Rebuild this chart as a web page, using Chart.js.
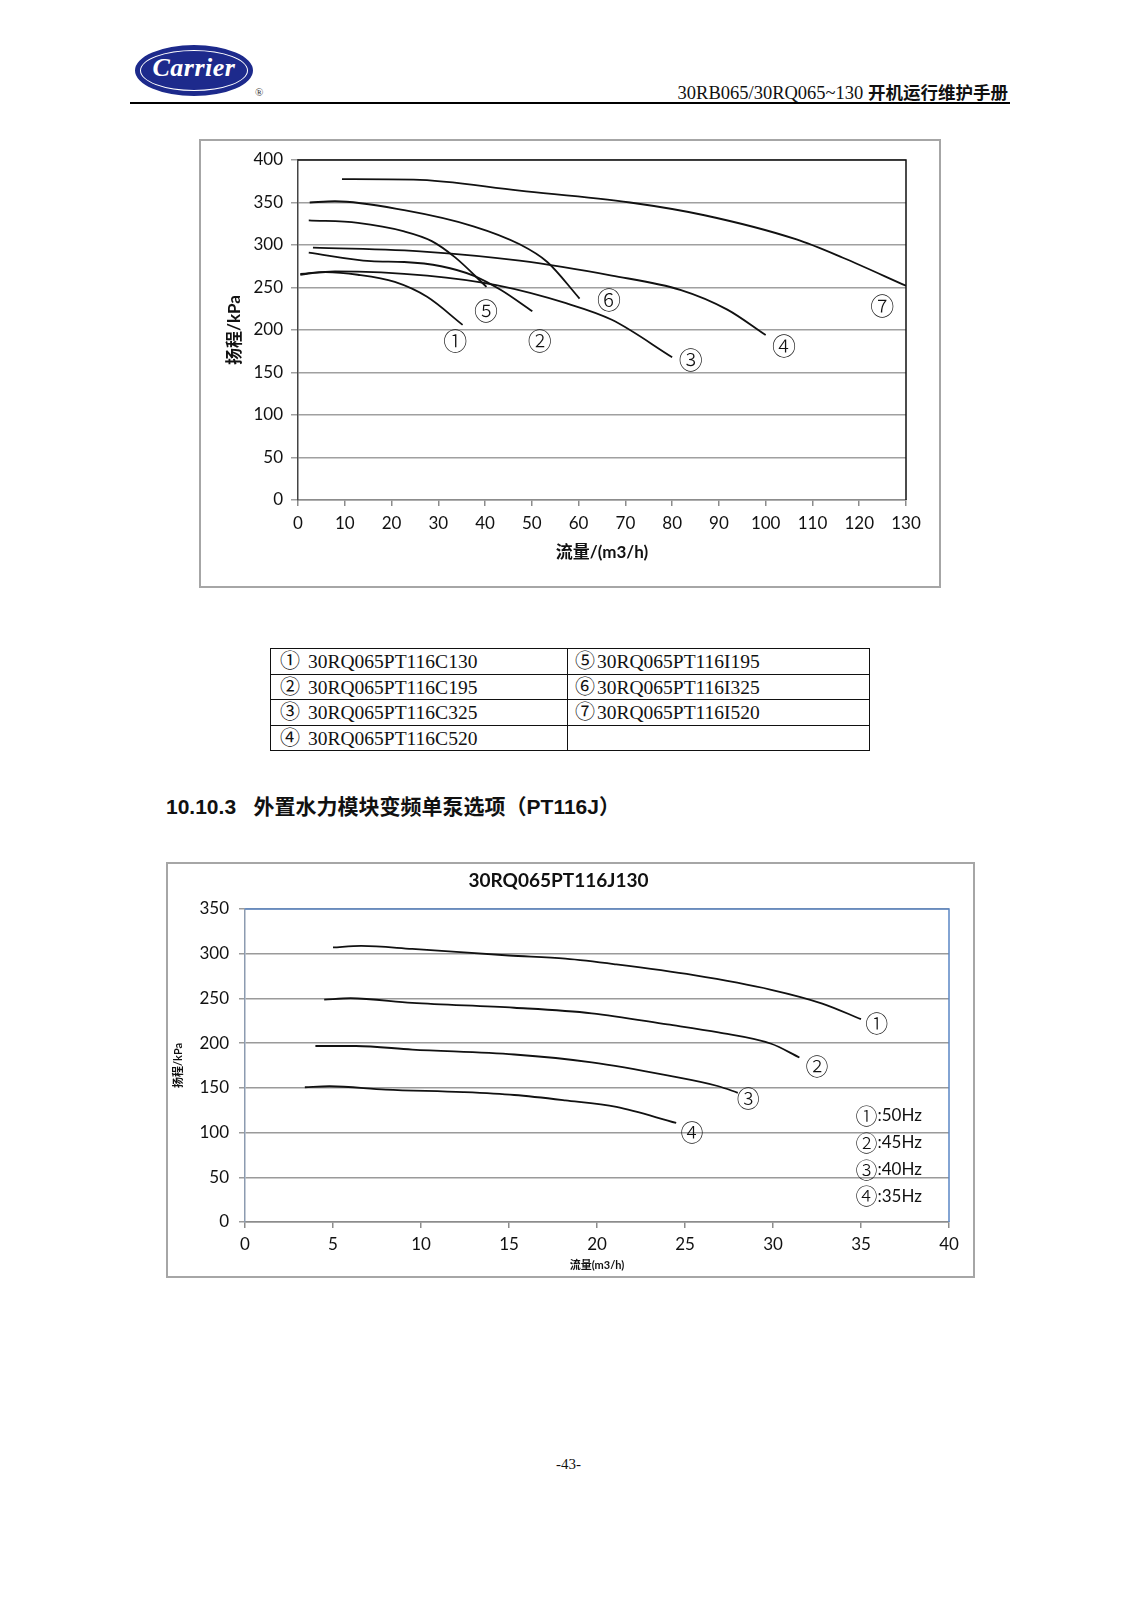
<!DOCTYPE html>
<html>
<head>
<meta charset="utf-8">
<script src="https://cdn.jsdelivr.net/npm/chart.js@4.4.1/dist/chart.umd.min.js"></script>
<style>
  html,body{margin:0;padding:0;background:#fff;}
  #page{position:relative;width:1137px;height:1600px;background:#fff;overflow:hidden;}
  .abs{position:absolute;}
  #logo{left:135px;top:45px;width:114px;height:47px;border-radius:50%;background:#1d2a8c;border:2px solid #1d2a8c;}
  #logo .ring{position:absolute;left:3px;top:3px;right:3px;bottom:3px;border-radius:50%;border:1.5px solid #fff;}
  #logo .txt{position:absolute;left:0;right:0;top:6px;text-align:center;color:#fff;font:italic bold 26px "Liberation Serif","DejaVu Serif",serif;letter-spacing:0.5px;}
  #reg{left:255px;top:86px;font:11px "Liberation Serif",serif;color:#333;}
  #hdr{right:129px;top:79px;font:18.5px "Liberation Serif","Noto Sans CJK SC",serif;color:#111;white-space:nowrap;}
  #hdr b{font-family:"Noto Sans CJK SC",sans-serif;font-weight:700;font-size:17.5px;}
  #hline{left:130px;top:102px;width:880px;height:2px;background:#000;}
  #f1{left:199px;top:139px;width:738px;height:445px;border:2px solid #a6a6a6;}
  #f2{left:166px;top:862px;width:805px;height:412px;border:2px solid #a6a6a6;}
  table#leg{position:absolute;left:270px;top:648px;border-collapse:collapse;font:19.5px "Liberation Serif",serif;color:#111;}
  table#leg td{border:1.5px solid #111;height:24.5px;line-height:22px;padding:0 0 0 9px;white-space:nowrap;vertical-align:middle;}
  table#leg td.c1{width:287px;}
  table#leg td.c2{width:294px;padding-left:7px;}
  table#leg .n{font-family:"Noto Sans CJK SC",sans-serif;font-size:20px;font-weight:400;margin-right:8px;}
  table#leg td.c2 .n{margin-right:2px;}
  #head{left:166px;top:790px;font:bold 21px "Liberation Sans","Noto Sans CJK SC",sans-serif;color:#111;white-space:nowrap;}
  #head .cn{font-family:"Noto Sans CJK SC",sans-serif;}
  #foot{left:0;width:1137px;top:1456px;text-align:center;font:15px "Liberation Serif",serif;color:#111;}
</style>
</head>
<body>
<div id="page">
  <div id="logo" class="abs"><div class="ring"></div><div class="txt">Carrier</div></div>
  <div id="reg" class="abs">®</div>
  <div id="hdr" class="abs">30RB065/30RQ065~130 <b>开机运行维护手册</b></div>
  <div id="hline" class="abs"></div>

  <div id="f1" class="abs"><canvas id="c1" width="738" height="445"></canvas></div>

  <table id="leg">
    <tr><td class="c1"><span class="n">①</span>30RQ065PT116C130</td><td class="c2"><span class="n">⑤</span>30RQ065PT116I195</td></tr>
    <tr><td class="c1"><span class="n">②</span>30RQ065PT116C195</td><td class="c2"><span class="n">⑥</span>30RQ065PT116I325</td></tr>
    <tr><td class="c1"><span class="n">③</span>30RQ065PT116C325</td><td class="c2"><span class="n">⑦</span>30RQ065PT116I520</td></tr>
    <tr><td class="c1"><span class="n">④</span>30RQ065PT116C520</td><td class="c2"></td></tr>
  </table>

  <div id="head" class="abs">10.10.3&nbsp;&nbsp; <span class="cn">外置水力模块变频单泵选项（</span>PT116J<span class="cn">）</span></div>

  <div id="f2" class="abs"><canvas id="c2" width="805" height="412"></canvas></div>

  <div id="foot" class="abs">-43-</div>
</div>

<script>
// ---------- Chart 1 data: flow (m3/h) vs head (kPa) ----------
const xTicks1 = [0,10,20,30,40,50,60,70,80,90,100,110,120,130];
const yTicks1 = [0,50,100,150,200,250,300,350,400];
const curveNames1 = ['①','②','③','④','⑤','⑥','⑦'];
const flowC130 = [0.5, 5.9, 12.8, 20.7, 27.6, 35.2];
const headC130 = [265, 268, 265, 256.5, 239, 206];
const flowC195 = [2.3, 15.6, 22.7, 30.6, 37.5, 43.4, 50.1];
const headC195 = [291, 281, 280, 275, 264, 247, 222];
const flowC325 = [0.5, 7.9, 27.6, 42.4, 57.3, 67.1, 80];
const headC325 = [266, 269, 264, 252.7, 231.5, 212, 168];
const flowC520 = [3.2, 27.6, 47.4, 67.1, 81.9, 91.8, 100];
const headC520 = [297, 292, 281.5, 264, 247, 224, 194];
const flowI195 = [2.3, 12.8, 22.7, 28.6, 33.6, 40.3];
const headI195 = [329, 326, 316, 304.6, 285.4, 250.8];
const flowI325 = [2.5, 7.9, 22.7, 37.5, 47.4, 53.3, 60.2];
const headI325 = [350, 351.5, 341, 322, 300.8, 280, 237];
const flowI520 = [9.4, 24.7, 47.4, 71, 86.9, 106.6, 116.5, 130];
const headI520 = [377.5, 377, 364, 350, 335, 306.5, 285, 252];
const labelX1 = [33.6, 51.7, 84, 103.9, 40.2, 66.5, 124.9];
const labelY1 = [187, 187, 165, 181, 222, 235, 228];

// ---------- Chart 2 data: 30RQ065PT116J130 ----------
const chartTitle2 = '30RQ065PT116J130';
const xTicks2 = [0,5,10,15,20,25,30,35,40];
const yTicks2 = [0,50,100,150,200,250,300,350];
const curveNames2 = ['①','②','③','④'];
const flow50 = [5, 6.6, 9.5, 15, 18.2, 21.1, 25.5, 29.9, 32.8, 35];
const head50 = [307, 308.7, 305.4, 298, 294.4, 288, 276, 259.7, 244.3, 226.8];
const flow45 = [4.5, 6, 9.5, 15.3, 19.7, 24, 26.9, 29.9, 31.5];
const head45 = [248.7, 250.2, 245, 239.6, 233.4, 221, 212, 199.3, 184];
const flow40 = [4, 6.3, 9.5, 15.3, 19.7, 24, 26.9, 28];
const head40 = [196.8, 196.8, 192.8, 187.3, 178.5, 163.9, 151.8, 144.5];
const flow35 = [3.4, 4.8, 8, 12.4, 15.3, 18.2, 21.1, 24.5];
const head35 = [150.7, 151.8, 148, 145.2, 142, 136, 128.7, 110.8];
const labelX2 = [35.9, 32.5, 28.6, 25.4];
const labelY2 = [222.6, 174.5, 138.7, 100.7];
const freqCircles = ['①','②','③','④'];
const freqLegend = [':50Hz',':45Hz',':40Hz',':35Hz'];
const freqLegendX = [34.8, 34.8, 34.8, 34.8];
const freqLegendY = [118.6, 88.4, 58.2, 29];

const NUM_FONT = 'Lato, "Open Sans", sans-serif';
const CJK_FONT = 'Lato, "Noto Sans CJK SC", sans-serif';
const CIRC_FONT = '"Noto Sans CJK SC", "DejaVu Sans", sans-serif';

function pts(xs, ys){ return xs.map((x,i)=>({x:x, y:ys[i]})); }
function ds(xs, ys){
  return {data: pts(xs,ys), borderColor:'#111', borderWidth:1.8, pointRadius:0,
          fill:false, cubicInterpolationMode:'monotone'};
}

function framePlugin(color, width){
  return {
    id:'frame',
    afterDraw(chart){
      const a = chart.chartArea, c = chart.ctx;
      c.save(); c.strokeStyle = color; c.lineWidth = width;
      c.beginPath(); c.moveTo(a.left, a.top); c.lineTo(a.right, a.top); c.lineTo(a.right, a.bottom); c.stroke();
      c.restore();
    }
  };
}
function textPlugin(id, texts, xs, ys, font, align, dx){
  return {
    id:id,
    afterDatasetsDraw(chart){
      const c = chart.ctx, sx = chart.scales.x, sy = chart.scales.y;
      c.save(); c.fillStyle = '#111'; c.font = font; c.textAlign = align; c.textBaseline = 'middle';
      texts.forEach((t,i)=> c.fillText(t, sx.getPixelForValue(xs[i]) + (dx||0), sy.getPixelForValue(ys[i])));
      c.restore();
    }
  };
}

// ---------- Chart 1 ----------
new Chart(document.getElementById('c1'), {
  type:'line',
  data:{datasets:[
    ds(flowC130, headC130), ds(flowC195, headC195), ds(flowC325, headC325), ds(flowC520, headC520),
    ds(flowI195, headI195), ds(flowI325, headI325), ds(flowI520, headI520)
  ]},
  options:{
    responsive:false, animation:false, devicePixelRatio:1,
    layout:{padding:{left:0, top:19, right:33, bottom:0}},
    plugins:{legend:{display:false}, tooltip:{enabled:false}, title:{display:false}},
    scales:{
      x:{type:'linear', min:0, max:130,
         afterBuildTicks(s){ s.ticks = xTicks1.map(v=>({value:v})); },
         afterFit(s){ s.height = 86; },
         grid:{drawOnChartArea:false, drawTicks:true, tickLength:6, color:'#8c8c8c', lineWidth:1.5},
         border:{color:'#8c8c8c', width:1.5},
         ticks:{color:'#111', font:{family:NUM_FONT, size:17}, padding:7, maxRotation:0, autoSkip:false},
         title:{display:true, text:'流量/(m3/h)', color:'#111', font:{family:CJK_FONT, size:17, weight:'bold'}, padding:23}
      },
      y:{type:'linear', min:0, max:400,
         afterBuildTicks(s){ s.ticks = yTicks1.map(v=>({value:v})); },
         afterFit(s){ s.width = 97; },
         grid:{drawOnChartArea:true, drawTicks:true, tickLength:7, color:'#a0a0a0', lineWidth:1.5},
         border:{color:'#444', width:1.5},
         ticks:{color:'#111', font:{family:NUM_FONT, size:17}, padding:8},
         title:{display:true, text:'扬程/kPa', color:'#111', font:{family:CJK_FONT, size:17, weight:'bold'}, padding:{top:23, bottom:0}}
      }
    }
  },
  plugins:[framePlugin('#111',1.5), textPlugin('lab1', curveNames1, labelX1, labelY1, '300 24px '+CIRC_FONT, 'center')]
});

// ---------- Chart 2 ----------
new Chart(document.getElementById('c2'), {
  type:'line',
  data:{datasets:[ ds(flow50, head50), ds(flow45, head45), ds(flow40, head40), ds(flow35, head35) ]},
  options:{
    responsive:false, animation:false, devicePixelRatio:1,
    layout:{padding:{left:0, top:0, right:24, bottom:0}},
    plugins:{legend:{display:false}, tooltip:{enabled:false},
      title:{display:true, text:chartTitle2, color:'#111', font:{family:NUM_FONT, size:19, weight:'bold'}, padding:{top:5, bottom:17.2}}},
    scales:{
      x:{type:'linear', min:0, max:40,
         afterBuildTicks(s){ s.ticks = xTicks2.map(v=>({value:v})); },
         afterFit(s){ s.height = 54; },
         grid:{drawOnChartArea:false, drawTicks:true, tickLength:6, color:'#8c8c8c', lineWidth:1.5},
         border:{color:'#8c8c8c', width:1.5},
         ticks:{color:'#111', font:{family:NUM_FONT, size:17}, padding:6, maxRotation:0, autoSkip:false},
         title:{display:true, text:'流量(m3/h)', color:'#111', font:{family:CJK_FONT, size:11, weight:'bold'}, padding:4.4}
      },
      y:{type:'linear', min:0, max:350,
         afterBuildTicks(s){ s.ticks = yTicks2.map(v=>({value:v})); },
         afterFit(s){ s.width = 77; },
         grid:{drawOnChartArea:true, drawTicks:true, tickLength:6, color:'#9a9a9a', lineWidth:1.5},
         border:{color:'#8c9bb0', width:1.5},
         ticks:{color:'#111', font:{family:NUM_FONT, size:17}, padding:10},
         title:{display:true, text:'扬程/kPa', color:'#111', font:{family:CJK_FONT, size:11, weight:'bold'}, padding:{top:3.5, bottom:0}}
      }
    }
  },
  plugins:[framePlugin('#5b86c5',1.5),
           textPlugin('lab2', curveNames2, labelX2, labelY2, '300 23px '+CIRC_FONT, 'center'),
           textPlugin('leg2c', freqCircles, freqLegendX, freqLegendY, '300 22px '+CIRC_FONT, 'left', -2),
           textPlugin('leg2', freqLegend, freqLegendX, freqLegendY, '17px '+NUM_FONT, 'left', 20)]
});
</script>
</body>
</html>
